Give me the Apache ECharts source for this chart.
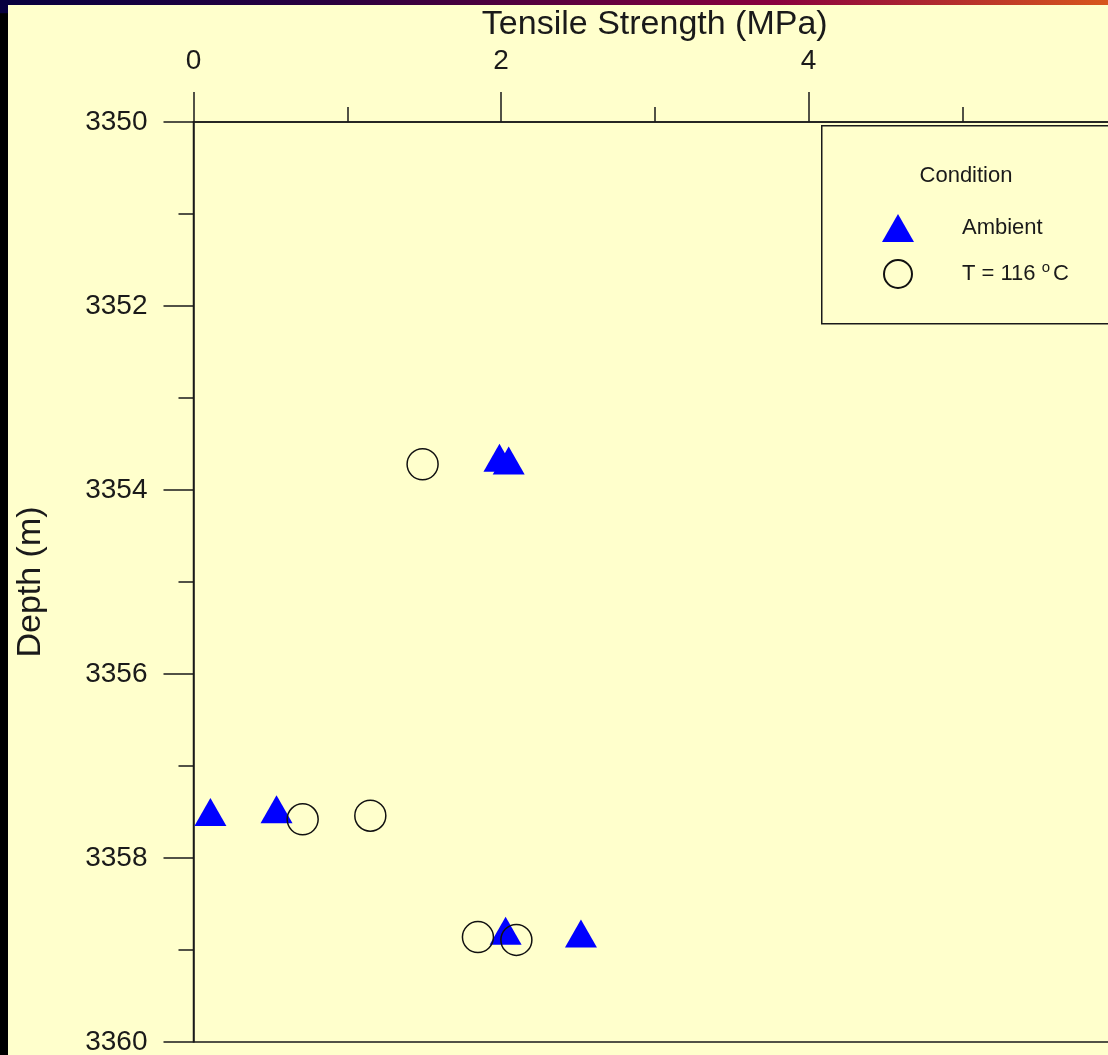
<!DOCTYPE html>
<html>
<head>
<meta charset="utf-8">
<title>Tensile Strength vs Depth</title>
<script src="https://cdn.jsdelivr.net/npm/echarts@6/dist/echarts.min.js"></script>
<style>
  html, body { margin: 0; padding: 0; background: #000; }
  #chart { width: 1108px; height: 1055px; }
</style>
</head>
<body>
<div id="chart"></div>
<script>
// Tensile strength (MPa) and depth (m) of each tested sample
const ambientStrength = [1.99, 2.05, 0.11, 0.54, 2.03, 2.52];
const ambientDepth    = [3353.65, 3353.68, 3357.50, 3357.47, 3358.79, 3358.82];
const hotStrength     = [1.49, 0.71, 1.15, 1.85, 2.10];
const hotDepth        = [3353.72, 3357.58, 3357.54, 3358.86, 3358.89];

const seriesNames = ['Ambient', 'T = 116 °C'];
const legendTitle = 'Condition';
const xTitle = 'Tensile Strength (MPa)';
const yTitle = 'Depth (m)';

const FONT = '"Liberation Sans", Arial, sans-serif';
const INK = '#1a1a1a';

const chart = echarts.init(document.getElementById('chart'), null, { renderer: 'canvas' });

const pairs = (xs, ys) => xs.map((x, i) => [x, ys[i]]);

chart.setOption({
  backgroundColor: '#FFFFCC',
  animation: false,
  grid: {
    left: 193.5, top: 122, width: 922.5, height: 920,
    outerBoundsMode: 'none', containLabel: false,
    show: true, borderColor: INK, borderWidth: 1.5, backgroundColor: 'transparent'
  },
  xAxis: {
    type: 'value', position: 'top',
    min: 0, max: 6, interval: 2,
    name: xTitle, nameLocation: 'middle', nameGap: 76,
    nameTextStyle: { fontFamily: FONT, fontSize: 34, color: INK },
    axisLine: { show: true, lineStyle: { color: INK, width: 1.5 } },
    axisTick: { show: true, inside: false, length: 30, lineStyle: { color: INK, width: 1.5 } },
    minorTick: { show: true, splitNumber: 2, length: 15, lineStyle: { color: INK, width: 1.5 } },
    axisLabel: { fontFamily: FONT, fontSize: 28, color: INK, margin: 47, formatter: v => String(v) },
    splitLine: { show: false }
  },
  yAxis: {
    type: 'value', inverse: true,
    min: 3350, max: 3360, interval: 2,
    name: yTitle, nameLocation: 'middle', nameGap: 146,
    nameTextStyle: { fontFamily: FONT, fontSize: 34, color: INK },
    axisLine: { show: true, lineStyle: { color: INK, width: 1.5 } },
    axisTick: { show: true, inside: false, length: 30, lineStyle: { color: INK, width: 1.5 } },
    minorTick: { show: true, splitNumber: 2, length: 15, lineStyle: { color: INK, width: 1.5 } },
    axisLabel: { fontFamily: FONT, fontSize: 28, color: INK, margin: 46, formatter: v => String(v) },
    splitLine: { show: false }
  },
  legend: {
    orient: 'vertical',
    left: 882, top: 214, padding: 0,
    itemWidth: 32, itemHeight: 28, itemGap: 17,
    data: [
      { name: seriesNames[0], icon: 'triangle' },
      { name: seriesNames[1], icon: 'circle' }
    ],
    formatter: name => name === seriesNames[1] ? 'T = 116 {sup|o}C' : name,
    textStyle: {
      fontFamily: FONT, fontSize: 22, color: INK,
      padding: [0, 0, 0, 43],
      rich: { sup: { fontFamily: FONT, fontSize: 15, color: INK, padding: [0, 3, 13, 0] } }
    }
  },
  graphic: [
    // dark frame strips along the top and left edges
    { type: 'rect', left: 0, top: 0, z: 100, silent: true,
      shape: { width: 1108, height: 5 },
      style: { fill: new echarts.graphic.LinearGradient(0, 0, 1, 0, [
        { offset: 0, color: '#07003f' },
        { offset: 0.3, color: '#2a0040' },
        { offset: 0.7, color: '#8a0040' },
        { offset: 1, color: '#d8561c' }
      ]) } },
    { type: 'rect', left: 0, top: 0, z: 100, silent: true,
      shape: { width: 8, height: 1055 },
      style: { fill: new echarts.graphic.LinearGradient(0, 0, 0, 1, [
        { offset: 0, color: '#07003f' },
        { offset: 0.012, color: '#07003f' },
        { offset: 0.013, color: '#000000' },
        { offset: 1, color: '#000000' }
      ]) } },
    // legend frame and heading
    { type: 'rect', left: 821, top: 125, z: 1, silent: true,
      shape: { width: 400, height: 198 },
      style: { fill: '#FFFFCC', stroke: INK, lineWidth: 1.5 } },
    { type: 'text', x: 966, y: 176, z: 2, silent: true,
      style: { text: legendTitle, fontFamily: FONT, fontSize: 22, fill: INK,
               align: 'center', verticalAlign: 'middle' } }
  ],
  series: [
    {
      name: seriesNames[0], type: 'scatter',
      symbol: 'triangle', symbolSize: [32, 28],
      itemStyle: { color: '#0000FF', opacity: 1 },
      data: pairs(ambientStrength, ambientDepth), z: 3
    },
    {
      name: seriesNames[1], type: 'scatter',
      symbol: 'circle', symbolSize: 31,
      itemStyle: { color: 'rgba(0,0,0,0)', borderColor: '#111', borderWidth: 1.5, opacity: 1 },
      data: pairs(hotStrength, hotDepth), z: 4
    }
  ]
});
</script>
</body>
</html>
